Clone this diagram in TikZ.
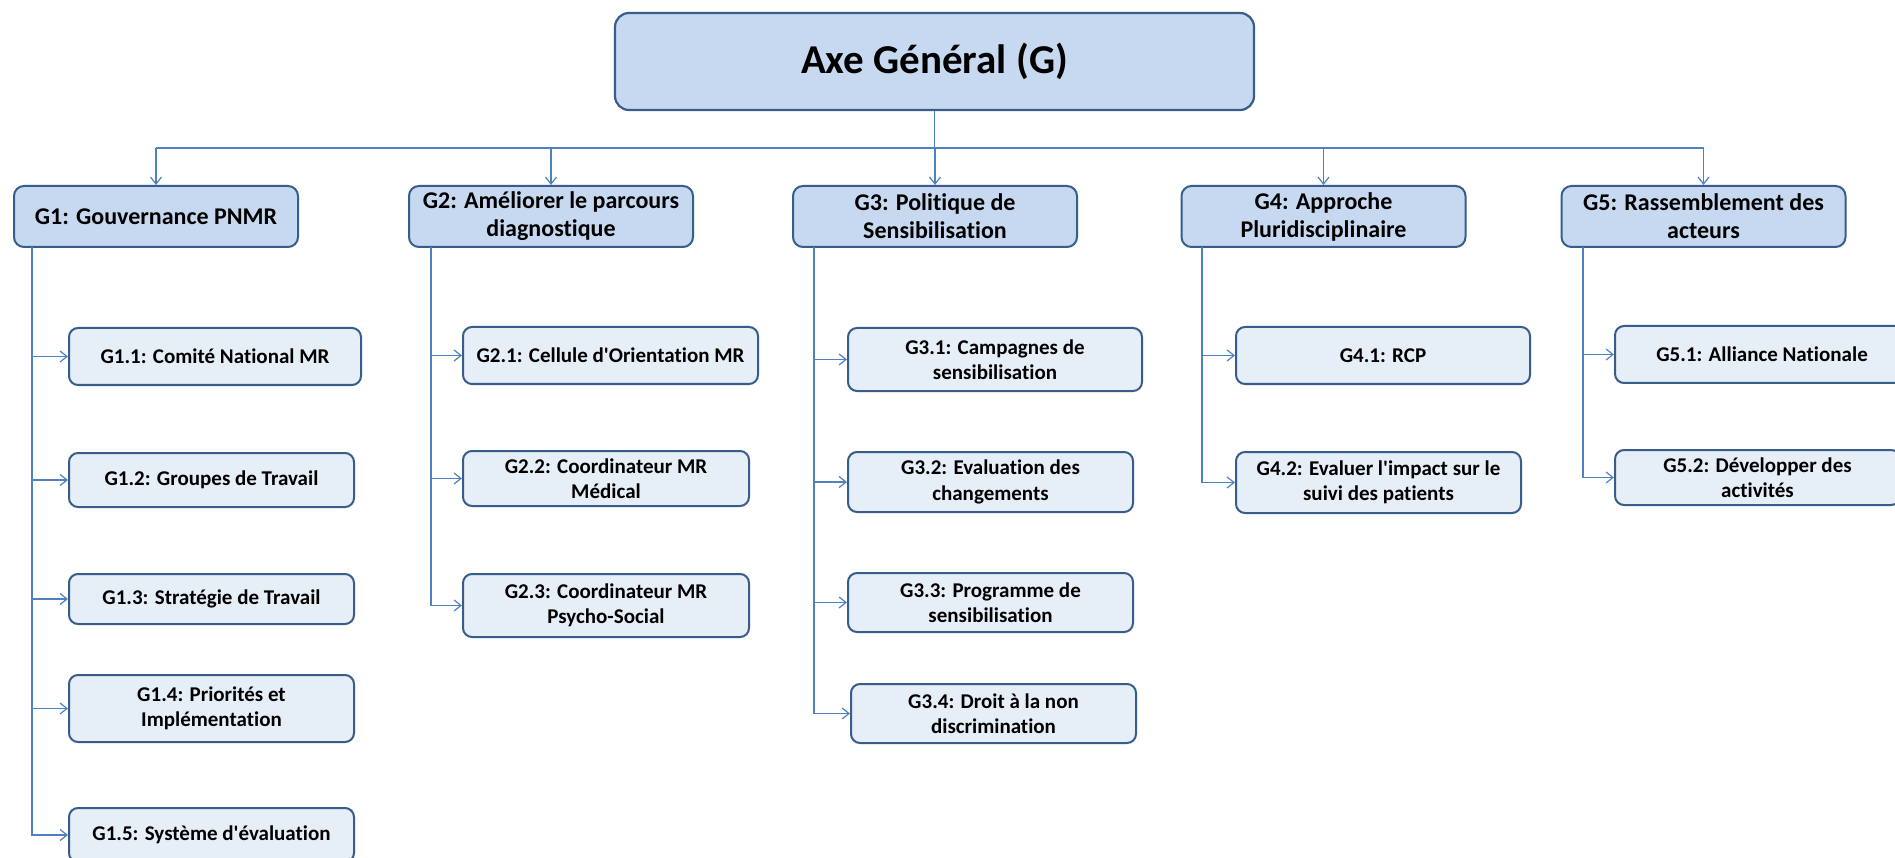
\documentclass[tikz,border=0pt]{standalone}
\usepackage{fontspec}
\setmainfont{Carlito}[Ligatures=NoCommon]
\usetikzlibrary{arrows.meta}
\definecolor{gfill}{HTML}{C6D9F1}
\definecolor{lfill}{HTML}{E6EEF8}
\definecolor{bord}{HTML}{385D8A}
\definecolor{conncol}{HTML}{4F81BD}
\newcommand{\apos}{\textquotesingle}
\tikzset{
  topbox/.style={draw=bord, fill=gfill, line width=2.2pt, rounded corners=14pt, inner sep=0pt,
    font=\fontsize{41}{48}\selectfont\bfseries},
  gbox/.style={draw=bord, fill=gfill, line width=2pt, rounded corners=10pt, inner sep=0pt,
    minimum width=284pt, minimum height=61pt, align=center,
    font=\fontsize{24}{28}\selectfont\bfseries},
  leafbox/.style={draw=bord, fill=lfill, line width=2pt, rounded corners=9pt, inner sep=0pt,
    align=center, font=\fontsize{21}{25.5}\selectfont\bfseries},
  conn/.style={draw=conncol, line width=1.4pt},
  arr/.style={conn, -{Straight Barb[length=7pt,width=11pt,line width=1.2pt]}}
}
\begin{document}
\begin{tikzpicture}[x=1pt,y=-1pt]
\clip (0,0) rectangle (1895,858);
\fill[white] (0,0) rectangle (1895,858);

% top
\node[topbox, minimum width=639pt, minimum height=97pt] (top) at (934.5,61.5) {Axe Général (G)};

% level 1
\node[gbox] (g1) at (156,216.5) {G1: Gouvernance PNMR};
\node[gbox] (g2) at (551,216.5) {G2: Améliorer le parcours\\diagnostique};
\node[gbox] (g3) at (935,216.5) {G3: Politique de\\Sensibilisation};
\node[gbox] (g4) at (1323.5,216.5) {G4: Approche\\Pluridisciplinaire};
\node[gbox] (g5) at (1703.5,216.5) {G5: Rassemblement des\\acteurs};

% leaves G1
\node[leafbox, minimum width=292pt, minimum height=57pt] (g11) at (215,356.5) {G1.1: Comité National MR};
\node[leafbox, minimum width=285pt, minimum height=54pt] (g12) at (211.5,480) {G1.2: Groupes de Travail};
\node[leafbox, minimum width=285pt, minimum height=50pt] (g13) at (211.5,599) {G1.3: Stratégie de Travail};
\node[leafbox, minimum width=285pt, minimum height=67pt] (g14) at (211.5,708.5) {G1.4: Priorités et\\Implémentation};
\node[leafbox, minimum width=285pt, minimum height=54pt] (g15) at (211.5,835) {G1.5: Système d\apos{}évaluation};
% leaves G2
\node[leafbox, minimum width=295pt, minimum height=57pt] (g21) at (610.5,355.5) {G2.1: Cellule d\apos{}Orientation MR};
\node[leafbox, minimum width=286pt, minimum height=55pt] (g22) at (606,478.5) {G2.2: Coordinateur MR\\Médical};
\node[leafbox, minimum width=286pt, minimum height=63pt] (g23) at (606,605.5) {G2.3: Coordinateur MR\\Psycho-Social};
% leaves G3
\node[leafbox, minimum width=294pt, minimum height=63pt] (g31) at (995,359.5) {G3.1: Campagnes de\\sensibilisation};
\node[leafbox, minimum width=285pt, minimum height=60pt] (g32) at (990.5,482) {G3.2: Evaluation des\\changements};
\node[leafbox, minimum width=285pt, minimum height=59pt] (g33) at (990.5,602.5) {G3.3: Programme de\\sensibilisation};
\node[leafbox, minimum width=285pt, minimum height=59pt] (g34) at (993.5,713.5) {G3.4: Droit à la non\\discrimination};
% leaves G4
\node[leafbox, minimum width=294pt, minimum height=57pt] (g41) at (1383,355.5) {G4.1: RCP};
\node[leafbox, minimum width=285pt, minimum height=61pt] (g42) at (1378.5,482.5) {G4.2: Evaluer l\apos{}impact sur le\\suivi des patients};
% leaves G5
\node[leafbox, minimum width=294pt, minimum height=57pt] (g51) at (1762,354.5) {G5.1: Alliance Nationale};
\node[leafbox, minimum width=285pt, minimum height=55pt] (g52) at (1757.5,477.5) {G5.2: Développer des\\activités};

% bus
\coordinate (bus) at (934.5,148);
\draw[conn] (top.south) -- (bus);
\draw[conn] (g1.north |- bus) -- (g5.north |- bus);
\foreach \i in {1,...,5} {
  \draw[arr] (g\i.north |- bus) -- (g\i.north);
}

% trunks
\coordinate (t1) at (32,247);
\coordinate (t2) at (431,247);
\coordinate (t3) at (814,247);
\coordinate (t4) at (1202,247);
\coordinate (t5) at (1583,247);
\foreach \j in {1,...,5} { \draw[arr] (t1) |- (g1\j.west); }
\foreach \j in {1,...,3} { \draw[arr] (t2) |- (g2\j.west); }
\foreach \j in {1,...,4} { \draw[arr] (t3) |- (g3\j.west); }
\foreach \j in {1,2} { \draw[arr] (t4) |- (g4\j.west); }
\foreach \j in {1,2} { \draw[arr] (t5) |- (g5\j.west); }
\end{tikzpicture}
\end{document}
